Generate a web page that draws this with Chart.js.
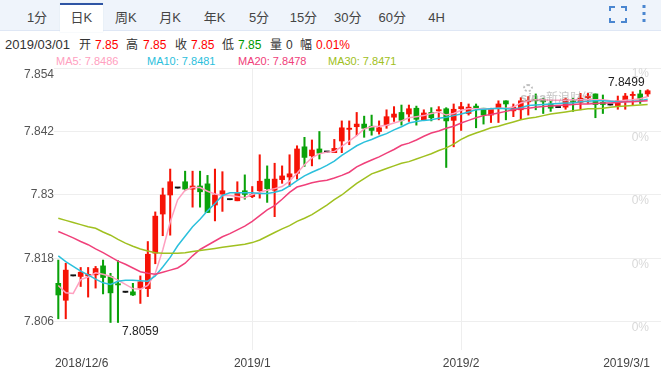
<!DOCTYPE html>
<html>
<head>
<meta charset="utf-8">
<title>USD/CNH K</title>
<script src="https://cdn.jsdelivr.net/npm/chart.js"></script>
<style>
  html, body { margin: 0; padding: 0; background: #fff; }
  body { width: 661px; height: 369px; overflow: hidden; position: relative; font-family: "Liberation Sans", "Noto Sans CJK SC", sans-serif; }
  .bar { position: absolute; left: 0; top: 0; width: 661px; height: 30px; background: #eff4fb; border-bottom: 1px solid #dfe7f5; }
  .active { position: absolute; left: 60px; top: 3px; width: 43px; height: 26px; background: #fff; border-top: 2px solid #2f55a4; border-bottom: 1px solid #fff; box-shadow: 0 0 1px #d5deee; }
  .tab { position: absolute; top: 10px; width: 44px; text-align: center; font-size: 13px; line-height: 16px; color: #444; }
  .t { position: absolute; white-space: nowrap; font-size: 12px; line-height: 14px; top: 38px; color: #333; }
  .red { color: #f00; }
  .green { color: #090; }
  .ma { position: absolute; top: 55px; font-size: 11px; line-height: 13px; white-space: nowrap; }
  .mark { position: absolute; left: 520px; top: 84px; color: rgba(150,150,150,.55); z-index: 2; }
  .mark i { position: absolute; left: 3px; top: 0; width: 6px; height: 4px; border: 2px dotted rgba(150,150,150,.6); border-radius: 50%; }
  .mark b { position: absolute; left: 0; top: 7px; font-size: 13px; font-style: italic; line-height: 13px; }
  .mark span { position: absolute; left: 26px; top: 8px; width: 60px; font-size: 12px; line-height: 13px; }
  svg { position: absolute; left: 606px; top: 4px; }
  #chart { position: absolute; left: 0; top: 0; }
</style>
</head>
<body>
<div class="bar"></div>
<div class="active"></div>
<div id="tabs"></div>
<svg width="50" height="20" fill="none" stroke="#4a86d0" stroke-width="2">
  <path d="M4 7V3H9M15 3H20V7M20 14V18H15M9 18H4V14"/>
  <path d="M38 1V4M38 8V11M38 15V18" stroke-width="3"/>
</svg>
<span class="t" style="left:5px;font-size:13px">2019/03/01</span>
<span class="t" style="left:79px">开</span><span class="t red" style="left:95px">7.85</span>
<span class="t" style="left:126px">高</span><span class="t red" style="left:143px">7.85</span>
<span class="t" style="left:175px">收</span><span class="t red" style="left:191px">7.85</span>
<span class="t" style="left:222px">低</span><span class="t green" style="left:238px">7.85</span>
<span class="t" style="left:270px">量</span><span class="t" style="left:286px">0</span>
<span class="t" style="left:300px">幅</span><span class="t red" style="left:316px">0.01%</span>
<span class="ma" style="left:56px;color:#ffa0c0">MA5: 7.8486</span>
<span class="ma" style="left:147px;color:#2bc0dc">MA10: 7.8481</span>
<span class="ma" style="left:238px;color:#f0407a">MA20: 7.8478</span>
<span class="ma" style="left:328px;color:#a0c020">MA30: 7.8471</span>
<div class="mark"><i></i><b>sina</b><span>新浪财经</span></div>
<canvas id="chart" width="661" height="369"></canvas>
<script>
const tabs = ['1分', '日K', '周K', '月K', '年K', '5分', '15分', '30分', '60分', '4H'];

const xTickIdx = [-0.45, 26, 54, 79.3];
const xTickLabels = ['2018/12/6', '2019/1', '2019/2', '2019/3/1'];
const yTicks = [7.806, 7.818, 7.83, 7.842, 7.854];

const high = [7.8177,7.8171,7.8147,7.8163,7.8163,7.8165,7.8177,7.8152,7.8176,7.8116,7.8133,7.8147,7.8212,7.8268,7.8313,7.8349,7.8313,7.8345,7.8345,7.8345,7.8337,7.8349,7.8344,7.8291,7.8325,7.8338,7.8316,7.8376,7.8355,7.8360,7.8355,7.8376,7.8393,7.8409,7.8404,7.8420,7.8381,7.8405,7.8440,7.8440,7.8456,7.8449,7.8451,7.8440,7.8461,7.8467,7.8470,7.8470,7.8468,7.8461,7.8465,7.8467,7.8465,7.8472,7.8475,7.8472,7.8472,7.8464,7.8464,7.8478,7.8478,7.8472,7.8484,7.8486,7.8491,7.8483,7.8478,7.8465,7.8483,7.8483,7.8492,7.8492,7.8491,7.8489,7.8470,7.8487,7.8492,7.8495,7.8498,7.8499];
const low = [7.8066,7.8066,7.8147,7.8127,7.8107,7.8124,7.8113,7.8059,7.8059,7.8116,7.8110,7.8095,7.8108,7.8170,7.8223,7.8224,7.8313,7.8308,7.8277,7.8277,7.8267,7.8251,7.8269,7.8291,7.8289,7.8292,7.8295,7.8294,7.8286,7.8259,7.8322,7.8316,7.8330,7.8354,7.8355,7.8368,7.8381,7.8380,7.8380,7.8395,7.8412,7.8409,7.8413,7.8415,7.8426,7.8439,7.8432,7.8439,7.8432,7.8441,7.8440,7.8442,7.8352,7.8391,7.8422,7.8451,7.8427,7.8434,7.8437,7.8437,7.8442,7.8448,7.8443,7.8451,7.8461,7.8454,7.8458,7.8465,7.8462,7.8458,7.8461,7.8473,7.8446,7.8454,7.8470,7.8462,7.8462,7.8470,7.8473,7.8486];
const open = [7.8133,7.8101,7.8147,7.8146,7.8147,7.8149,7.8166,7.8146,7.8131,7.8116,7.8117,7.8124,7.8123,7.8190,7.8264,7.8300,7.8313,7.8325,7.8311,7.8317,7.8321,7.8281,7.8301,7.8291,7.8289,7.8308,7.8297,7.8308,7.8330,7.8309,7.8329,7.8334,7.8341,7.8391,7.8374,7.8387,7.8381,7.8380,7.8402,7.8424,7.8429,7.8434,7.8430,7.8420,7.8432,7.8447,7.8456,7.8453,7.8464,7.8442,7.8456,7.8459,7.8463,7.8441,7.8463,7.8454,7.8468,7.8464,7.8451,7.8464,7.8478,7.8459,7.8461,7.8476,7.8481,7.8481,7.8472,7.8465,7.8466,7.8478,7.8475,7.8484,7.8491,7.8475,7.8470,7.8469,7.8478,7.8488,7.8491,7.8491];
const close = [7.8111,7.8158,7.8147,7.8154,7.8150,7.8161,7.8144,7.8115,7.8130,7.8116,7.8111,7.8136,7.8188,7.8260,7.8300,7.8325,7.8313,7.8311,7.8317,7.8306,7.8267,7.8300,7.8308,7.8291,7.8303,7.8301,7.8301,7.8326,7.8312,7.8330,7.8336,7.8340,7.8387,7.8371,7.8385,7.8379,7.8381,7.8388,7.8427,7.8426,7.8434,7.8426,7.8422,7.8427,7.8448,7.8453,7.8441,7.8463,7.8443,7.8455,7.8446,7.8461,7.8440,7.8462,7.8467,7.8466,7.8464,7.8451,7.8463,7.8472,7.8472,7.8466,7.8478,7.8479,7.8478,7.8476,7.8464,7.8465,7.8481,7.8475,7.8483,7.8486,7.8471,7.8471,7.8470,7.8478,7.8487,7.8490,7.8481,7.8497];

const ma5 = [7.8129,7.8115,7.8114,7.8140,7.8145,7.8153,7.8150,7.8146,7.8139,7.8131,7.8123,7.8122,7.8129,7.8152,7.8196,7.8249,7.8291,7.8309,7.8314,7.8314,7.8307,7.8302,7.8299,7.8299,7.8297,7.8295,7.8301,7.8305,7.8309,7.8312,7.8316,7.8326,7.8341,7.8357,7.8370,7.8378,7.8381,7.8382,7.8392,7.8402,7.8412,7.8425,7.8429,7.8430,7.8432,7.8436,7.8440,7.8446,7.8448,7.8450,7.8454,7.8457,7.8451,7.8454,7.8460,7.8463,7.8463,7.8463,7.8463,7.8464,7.8464,7.8466,7.8474,7.8478,7.8480,7.8480,7.8479,7.8479,7.8479,7.8480,7.8480,7.8480,7.8480,7.8480,7.8478,7.8477,7.8479,7.8480,7.8482,7.8486];
const ma10 = [7.8185,7.8174,7.8165,7.8156,7.8149,7.8141,7.8134,7.8131,7.8137,7.8139,7.8139,7.8138,7.8137,7.8147,7.8164,7.8182,7.8204,7.8222,7.8240,7.8254,7.8270,7.8284,7.8299,7.8304,7.8304,7.8304,7.8304,7.8303,7.8303,7.8305,7.8309,7.8317,7.8327,7.8336,7.8343,7.8349,7.8356,7.8364,7.8375,7.8384,7.8393,7.8400,7.8405,7.8411,7.8416,7.8423,7.8429,7.8436,7.8439,7.8441,7.8442,7.8445,7.8447,7.8450,7.8453,7.8457,7.8461,7.8462,7.8463,7.8464,7.8463,7.8462,7.8465,7.8469,7.8470,7.8471,7.8472,7.8473,7.8474,7.8474,7.8476,7.8477,7.8478,7.8478,7.8477,7.8476,7.8476,7.8477,7.8478,7.8481];
const ma20 = [7.8231,7.8225,7.8219,7.8212,7.8206,7.8198,7.8191,7.8183,7.8175,7.8169,7.8162,7.8155,7.8152,7.8150,7.8154,7.8158,7.8162,7.8171,7.8185,7.8197,7.8205,7.8213,7.8221,7.8227,7.8234,7.8241,7.8250,7.8261,7.8272,7.8280,7.8292,7.8305,7.8315,7.8319,7.8323,7.8326,7.8328,7.8332,7.8337,7.8343,7.8353,7.8360,7.8366,7.8372,7.8379,7.8386,7.8394,7.8398,7.8404,7.8411,7.8417,7.8421,7.8426,7.8430,7.8436,7.8441,7.8446,7.8450,7.8452,7.8455,7.8458,7.8461,7.8463,7.8464,7.8466,7.8467,7.8468,7.8469,7.8470,7.8471,7.8472,7.8472,7.8473,7.8474,7.8474,7.8475,7.8476,7.8476,7.8477,7.8478];
const ma30 = [7.8256,7.8252,7.8248,7.8244,7.8240,7.8237,7.8230,7.8224,7.8216,7.8209,7.8203,7.8198,7.8194,7.8191,7.8190,7.8190,7.8190,7.8191,7.8193,7.8195,7.8197,7.8199,7.8201,7.8203,7.8205,7.8207,7.8210,7.8215,7.8222,7.8229,7.8236,7.8242,7.8250,7.8256,7.8263,7.8272,7.8281,7.8291,7.8300,7.8311,7.8322,7.8331,7.8340,7.8345,7.8350,7.8355,7.8360,7.8363,7.8368,7.8373,7.8378,7.8384,7.8389,7.8396,7.8405,7.8412,7.8417,7.8422,7.8427,7.8430,7.8434,7.8438,7.8442,7.8445,7.8447,7.8450,7.8453,7.8455,7.8457,7.8459,7.8461,7.8463,7.8463,7.8464,7.8466,7.8467,7.8468,7.8469,7.8470,7.8471];

document.getElementById('tabs').innerHTML = tabs.map(function(t, i) {
  return '<div class="tab" style="left:' + (15 + i * 44.4) + 'px">' + t + '</div>';
}).join('');

function candleColor(i) {
  if (close[i] > open[i]) return '#f61306';
  if (close[i] < open[i]) return '#0aa20a';
  return '#111';
}

const colors = close.map(function(c, i) { return candleColor(i); });

function maDataset(name, values, color, order) {
  return {
    type: 'line',
    label: name,
    data: values.map(function(v, i) { return { x: i, y: v }; }),
    borderColor: color,
    borderWidth: 1.5,
    pointRadius: 0,
    tension: 0,
    order: order
  };
}

// the two price notes: lowest and highest value in the window
const noteLabels = {
  id: 'noteLabels',
  afterDatasetsDraw(chart) {
    const ctx = chart.ctx;
    const x = chart.scales.x;
    const y = chart.scales.y;
    const lo = low.lastIndexOf(Math.min.apply(null, low));
    const hi = high.lastIndexOf(Math.max.apply(null, high));
    ctx.save();
    ctx.font = '12px "Liberation Sans"';
    ctx.fillStyle = '#222';
    ctx.textBaseline = 'middle';
    ctx.textAlign = 'left';
    ctx.fillText(low[lo].toFixed(4), x.getPixelForValue(lo) + 4, y.getPixelForValue(low[lo]) + 9);
    ctx.textAlign = 'right';
    ctx.fillText(high[hi].toFixed(4), x.getPixelForValue(hi) - 3, y.getPixelForValue(high[hi]) - 7);
    ctx.restore();
  }
};

new Chart(document.getElementById('chart').getContext('2d'), {
  type: 'bar',
  data: {
    datasets: [
      maDataset('MA30', ma30, '#a0c020', 1),
      maDataset('MA20', ma20, '#f0407a', 2),
      maDataset('MA10', ma10, '#2bc0dc', 3),
      maDataset('MA5', ma5, '#ffa0c0', 4),
      {
        label: 'body',
        data: open.map(function(o, i) { return { x: i, y: [o, close[i]] }; }),
        backgroundColor: colors,
        barThickness: 5,
        minBarLength: 1.2,
        grouped: false,
        order: 5
      },
      {
        label: 'wick',
        data: low.map(function(l, i) { return { x: i, y: [l, high[i]] }; }),
        backgroundColor: colors,
        barThickness: 1.4,
        grouped: false,
        order: 6
      }
    ]
  },
  options: {
    responsive: false,
    animation: false,
    layout: { padding: { top: 68 } },
    plugins: { legend: { display: false }, tooltip: { enabled: false } },
    scales: {
      x: {
        type: 'linear',
        offset: false,
        min: -0.576,
        max: 80.79,
        afterBuildTicks: function(scale) { scale.ticks = xTickIdx.map(function(v) { return { value: v }; }); },
        afterFit: function(scale) { scale.height = 19; },
        border: { display: false },
        grid: {
          offset: false,
          drawTicks: false,
          color: function(c) { return c.index === 1 || c.index === 2 ? '#eeeeee' : 'transparent'; }
        },
        ticks: {
          autoSkip: false,
          maxRotation: 0,
          align: 'inner',
          padding: 6,
          color: '#444',
          font: { family: '"Liberation Sans"', size: 12 },
          callback: function(v) { return xTickLabels[xTickIdx.indexOf(v)]; }
        }
      },
      y: {
        position: 'left',
        min: 7.8007,
        max: 7.854,
        afterBuildTicks: function(scale) { scale.ticks = yTicks.map(function(v) { return { value: v }; }); },
        afterFit: function(scale) { scale.width = 54; },
        border: { display: false },
        grid: { drawTicks: false, color: '#eeeeee' },
        ticks: {
          autoSkip: false,
          padding: 0,
          color: '#555',
          font: { family: '"Liberation Sans"', size: 12, lineHeight: 1.08 },
          callback: function(v) { return v === 7.854 ? ['', String(v)] : String(v); }
        }
      },
      y2: {
        position: 'right',
        min: 7.8007,
        max: 7.854,
        afterBuildTicks: function(scale) { scale.ticks = yTicks.map(function(v) { return { value: v }; }); },
        afterFit: function(scale) { scale.width = 0; },
        border: { display: false },
        grid: { display: false },
        ticks: {
          mirror: true,
          autoSkip: false,
          padding: -12,
          labelOffset: 6,
          color: '#d8d8d8',
          font: { family: '"Liberation Sans"', size: 12 },
          callback: function(v) { return v === 7.854 ? '1%' : '0%'; }
        }
      }
    }
  },
  plugins: [noteLabels]
});
</script>
</body>
</html>
